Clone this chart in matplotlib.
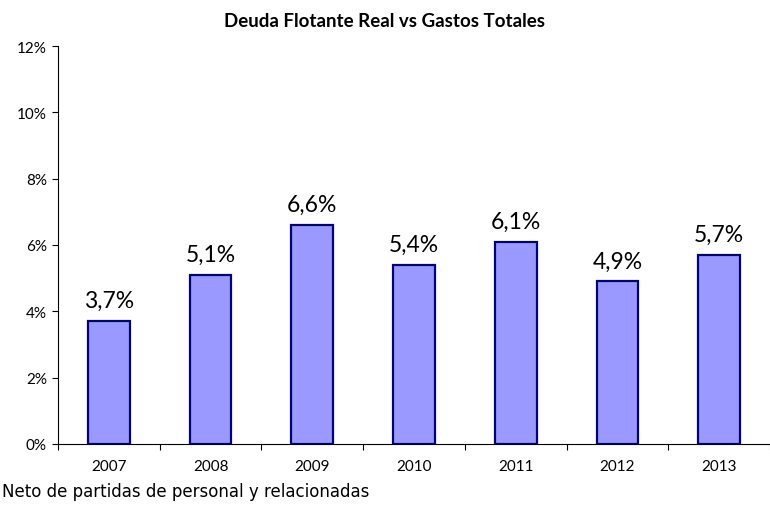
import numpy as np
import matplotlib.pyplot as plt
from matplotlib.ticker import FixedLocator

plt.rcParams['font.family'] = ['Lato', 'DejaVu Sans']

years = ['2007', '2008', '2009', '2010', '2011', '2012', '2013']
values = [3.7, 5.1, 6.6, 5.4, 6.1, 4.9, 5.7]
labels = ['3,7%', '5,1%', '6,6%', '5,4%', '6,1%', '4,9%', '5,7%']
yticks = [0, 2, 4, 6, 8, 10, 12]

fig = plt.figure(figsize=(7.7, 5.06), dpi=100)
ax = fig.add_axes([0.0753, 0.1206, 0.9247, 0.7865])

x = np.arange(len(years))
ax.bar(x, values, width=0.41, color='#9999FF', edgecolor='#000080', linewidth=1.6)

for xi, v, lab in zip(x, values, labels):
    ax.text(xi, v + 0.3, lab, ha='center', va='bottom', fontsize=16.5)

ax.set_xlim(-0.5, len(years) - 0.5)
ax.set_ylim(0, 12)
ax.set_yticks(yticks)
ax.set_yticklabels([f'{t}%' for t in yticks], fontsize=11)
ax.set_xticks(x)
ax.set_xticklabels(years, fontsize=11)
ax.tick_params(axis='x', length=0, pad=11)
ax.xaxis.set_minor_locator(FixedLocator(np.arange(-0.5, len(years), 1.0)))
ax.tick_params(axis='x', which='minor', length=4, direction='out', width=0.8)
ax.tick_params(axis='y', length=4, width=0.8, pad=4)

for s in ['top', 'right']:
    ax.spines[s].set_visible(False)
for s in ['left', 'bottom']:
    ax.spines[s].set_linewidth(0.8)

fig.text(0.5, 0.957, 'Deuda Flotante Real vs Gastos Totales', ha='center',
         va='center', fontsize=13.5, fontweight='bold')
fig.text(0.002, 0.027, 'Neto de partidas de personal y relacionadas',
         ha='left', va='center', fontsize=12, family='DejaVu Sans')

fig.savefig('out.png', dpi=100)
